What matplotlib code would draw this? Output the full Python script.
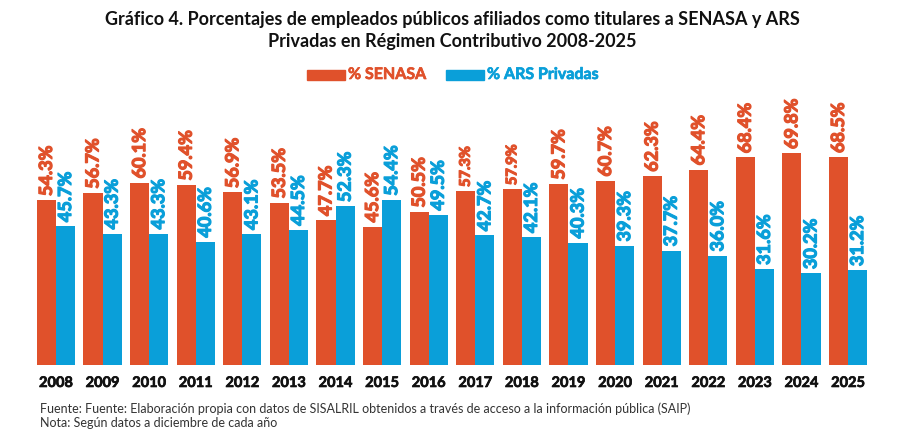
import matplotlib.pyplot as plt
import matplotlib.patheffects as pe
import numpy as np
from matplotlib.patches import Rectangle

years = ["2008", "2009", "2010", "2011", "2012", "2013", "2014", "2015", "2016",
         "2017", "2018", "2019", "2020", "2021", "2022", "2023", "2024", "2025"]
senasa = [54.3, 56.7, 60.1, 59.4, 56.9, 53.5, 47.7, 45.6, 50.5,
          57.3, 57.9, 59.7, 60.7, 62.3, 64.4, 68.4, 69.8, 68.5]
ars = [45.7, 43.3, 43.3, 40.6, 43.1, 44.5, 52.3, 54.4, 49.5,
       42.7, 42.1, 40.3, 39.3, 37.7, 36.0, 31.6, 30.2, 31.2]

red = "#E0512B"
blue = "#0A9FD9"
fam = ["Lato", "DejaVu Sans"]

fig = plt.figure(figsize=(9.04, 4.38), dpi=100)
ax = fig.add_axes([0.031, 0.167, 0.938, 0.616])

x = np.arange(len(years))
w = 0.41
ax.bar(x - w/2, senasa, w, color=red)
ax.bar(x + w/2, ars, w, color=blue)

for i in range(len(years)):
    fs = 10.5 if years[i] in ("2017", "2018") else 13
    ax.annotate(f"{senasa[i]:.1f}%", (x[i] - w/2, senasa[i]), xytext=(0, 3),
                textcoords="offset points", rotation=90, ha="center", va="bottom",
                color=red, fontsize=fs, fontweight="bold", family=fam,
                path_effects=[pe.withStroke(linewidth=0.9, foreground=red)])
    ax.annotate(f"{ars[i]:.1f}%", (x[i] + w/2, ars[i]), xytext=(0, 3),
                textcoords="offset points", rotation=90, ha="center", va="bottom",
                color=blue, fontsize=13, fontweight="bold", family=fam,
                path_effects=[pe.withStroke(linewidth=0.9, foreground=blue)])

ax.set_xlim(-0.6, len(years) - 0.4)
ax.set_ylim(0, 89)
ax.set_xticks(x)
ax.set_xticklabels(years, fontsize=10.5, fontweight="bold", family=fam, color="#111111",
                   path_effects=[pe.withStroke(linewidth=0.5, foreground="#111111")])
ax.tick_params(axis="x", length=0, pad=8)
ax.set_yticks([])
for s in ax.spines.values():
    s.set_visible(False)

fig.text(0.5, 0.955, "Gráfico 4. Porcentajes de empleados públicos afiliados como titulares a SENASA y ARS",
         ha="center", va="center", fontsize=13, fontweight="bold", family=fam, color="#111111")
fig.text(0.5, 0.905, "Privadas en Régimen Contributivo 2008-2025",
         ha="center", va="center", fontsize=13, fontweight="bold", family=fam, color="#111111")

# legend
fig.patches.append(Rectangle((307/904, 1 - 80/438), 38/904, 10/438, color=red,
                             transform=fig.transFigure, figure=fig))
fig.text(348/904, 1 - 75/438, "% SENASA", ha="left", va="center", fontsize=11.5,
         fontweight="bold", family=fam, color=red,
         path_effects=[pe.withStroke(linewidth=0.5, foreground=red)])
fig.patches.append(Rectangle((446/904, 1 - 80/438), 38/904, 10/438, color=blue,
                             transform=fig.transFigure, figure=fig))
fig.text(487/904, 1 - 75/438, "% ARS Privadas", ha="left", va="center", fontsize=11.5,
         fontweight="bold", family=fam, color=blue,
         path_effects=[pe.withStroke(linewidth=0.5, foreground=blue)])

fig.text(40/904, 1 - 409/438,
         "Fuente: Fuente: Elaboración propia con datos de SISALRIL obtenidos a través de acceso a la información pública (SAIP)",
         ha="left", va="center", fontsize=9, family=fam, color="#333333")
fig.text(40/904, 1 - 423/438, "Nota: Según datos a diciembre de cada año",
         ha="left", va="center", fontsize=9, family=fam, color="#333333")

fig.savefig("out.png", dpi=100)
